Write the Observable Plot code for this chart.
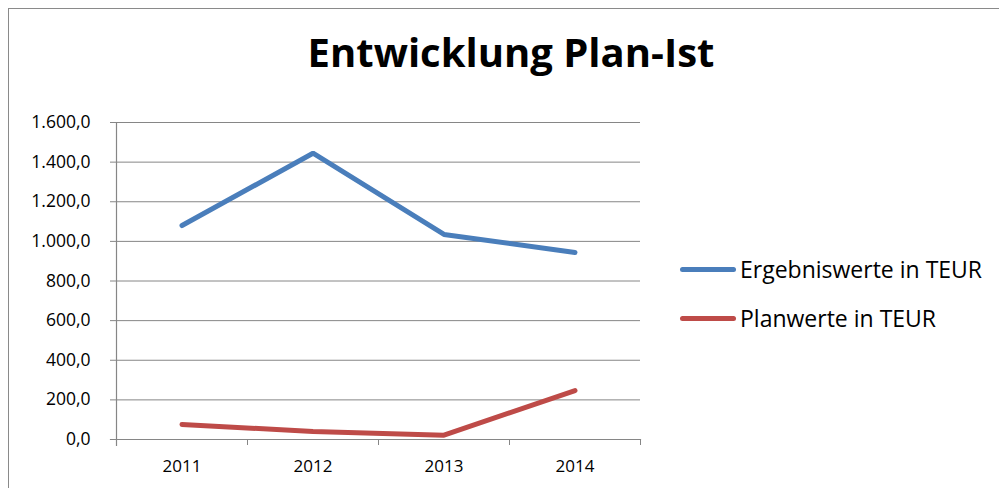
<!DOCTYPE html>
<html>
<head>
<meta charset="utf-8">
<script src="https://cdn.jsdelivr.net/npm/d3@7"></script>
<script src="https://cdn.jsdelivr.net/npm/@observablehq/plot@0.6"></script>
<style>
  html, body { margin: 0; padding: 0; background: #fff; overflow: hidden; }
  #wrap { position: relative; width: 999px; height: 488px; overflow: hidden; font-family: "Open Sans", sans-serif; }
  #border { position: absolute; left: 8px; top: 8px; width: 1100px; height: 600px; border: 1.5px solid #8a8a8a; box-sizing: border-box; }
  #title { position: absolute; left: 0; width: 1022px; top: 32px; text-align: center; font-size: 40px; font-weight: bold; color: #000; line-height: 1; }
  .leg { position: absolute; left: 680px; height: 30px; display: flex; align-items: center; font-size: 23px; color: #000; }
  .leg .sw { width: 56px; height: 5px; border-radius: 3px; margin-right: 4px; }
  #chart { position: absolute; left: 0; top: 0; }
</style>
</head>
<body>
<div id="wrap">
  <div id="border"></div>
  <div id="chart"></div>
  <div id="title"></div>
  <div id="legend"></div>
</div>
<script>
const title = "Entwicklung Plan-Ist";
const years = ["2011", "2012", "2013", "2014"];
const seriesNames = ["Ergebniswerte in TEUR", "Planwerte in TEUR"];
const ergebnis = [1080, 1445, 1035, 944];
const plan = [76, 40, 22, 247];
const yTicks = [0, 200, 400, 600, 800, 1000, 1200, 1400, 1600];
const colors = ["#4A7EBB", "#BE4B48"];

const de = d3.formatLocale({decimal: ",", thousands: ".", grouping: [3], currency: ["", " €"]});
const fmt = de.format(",.1f");

const rows = [];
years.forEach((y, i) => {
  rows.push({year: y, value: ergebnis[i], series: seriesNames[0]});
  rows.push({year: y, value: plan[i], series: seriesNames[1]});
});

const gray = "#868686";
const W = 999, H = 488, mL = 116, mR = 359;
const bw = (W - mL - mR) / years.length;

const chart = Plot.plot({
  width: W,
  height: H,
  marginLeft: mL,
  marginRight: mR,
  marginTop: 122,
  marginBottom: 49,
  style: {fontFamily: "Open Sans, sans-serif", fontSize: "17px", color: "#000", background: "transparent", overflow: "visible"},
  x: {type: "band", domain: years, padding: 0, label: null},
  y: {domain: [0, 1600], label: null},
  color: {domain: seriesNames, range: colors},
  marks: [
    Plot.gridY(yTicks, {stroke: gray, strokeOpacity: 1, strokeWidth: 1}),
    Plot.axisY(yTicks, {tickFormat: fmt, tickSize: 6, tickPadding: 20, stroke: gray, strokeOpacity: 1, fill: "#000", fontSize: 17.5, label: null}),
    Plot.axisX({tickSize: 0, tickPadding: 20, fontSize: 17, fill: "#000", label: null}),
    Plot.axisX({tickFormat: null, tickSize: 6, dx: -bw / 2, stroke: gray, strokeOpacity: 1, label: null}),
    Plot.axisX(["2014"], {tickFormat: null, tickSize: 6, dx: bw / 2, stroke: gray, strokeOpacity: 1, label: null}),
    Plot.frame({anchor: "left", stroke: gray, strokeWidth: 1.2, insetBottom: -6}),
    Plot.frame({anchor: "bottom", stroke: gray, strokeWidth: 1.2, insetLeft: -6}),
    Plot.line(rows, {x: "year", y: "value", z: "series", stroke: "series", strokeWidth: 5, strokeLinecap: "round", strokeLinejoin: "miter"})
  ]
});
document.getElementById("chart").appendChild(chart);
document.getElementById("title").textContent = title;

const legTops = [254, 303];
const leg = document.getElementById("legend");
seriesNames.forEach((name, i) => {
  const d = document.createElement("div");
  d.className = "leg";
  d.style.top = legTops[i] + "px";
  const sw = document.createElement("div");
  sw.className = "sw";
  sw.style.background = colors[i];
  const t = document.createElement("span");
  t.textContent = name;
  d.appendChild(sw);
  d.appendChild(t);
  leg.appendChild(d);
});
</script>
</body>
</html>
